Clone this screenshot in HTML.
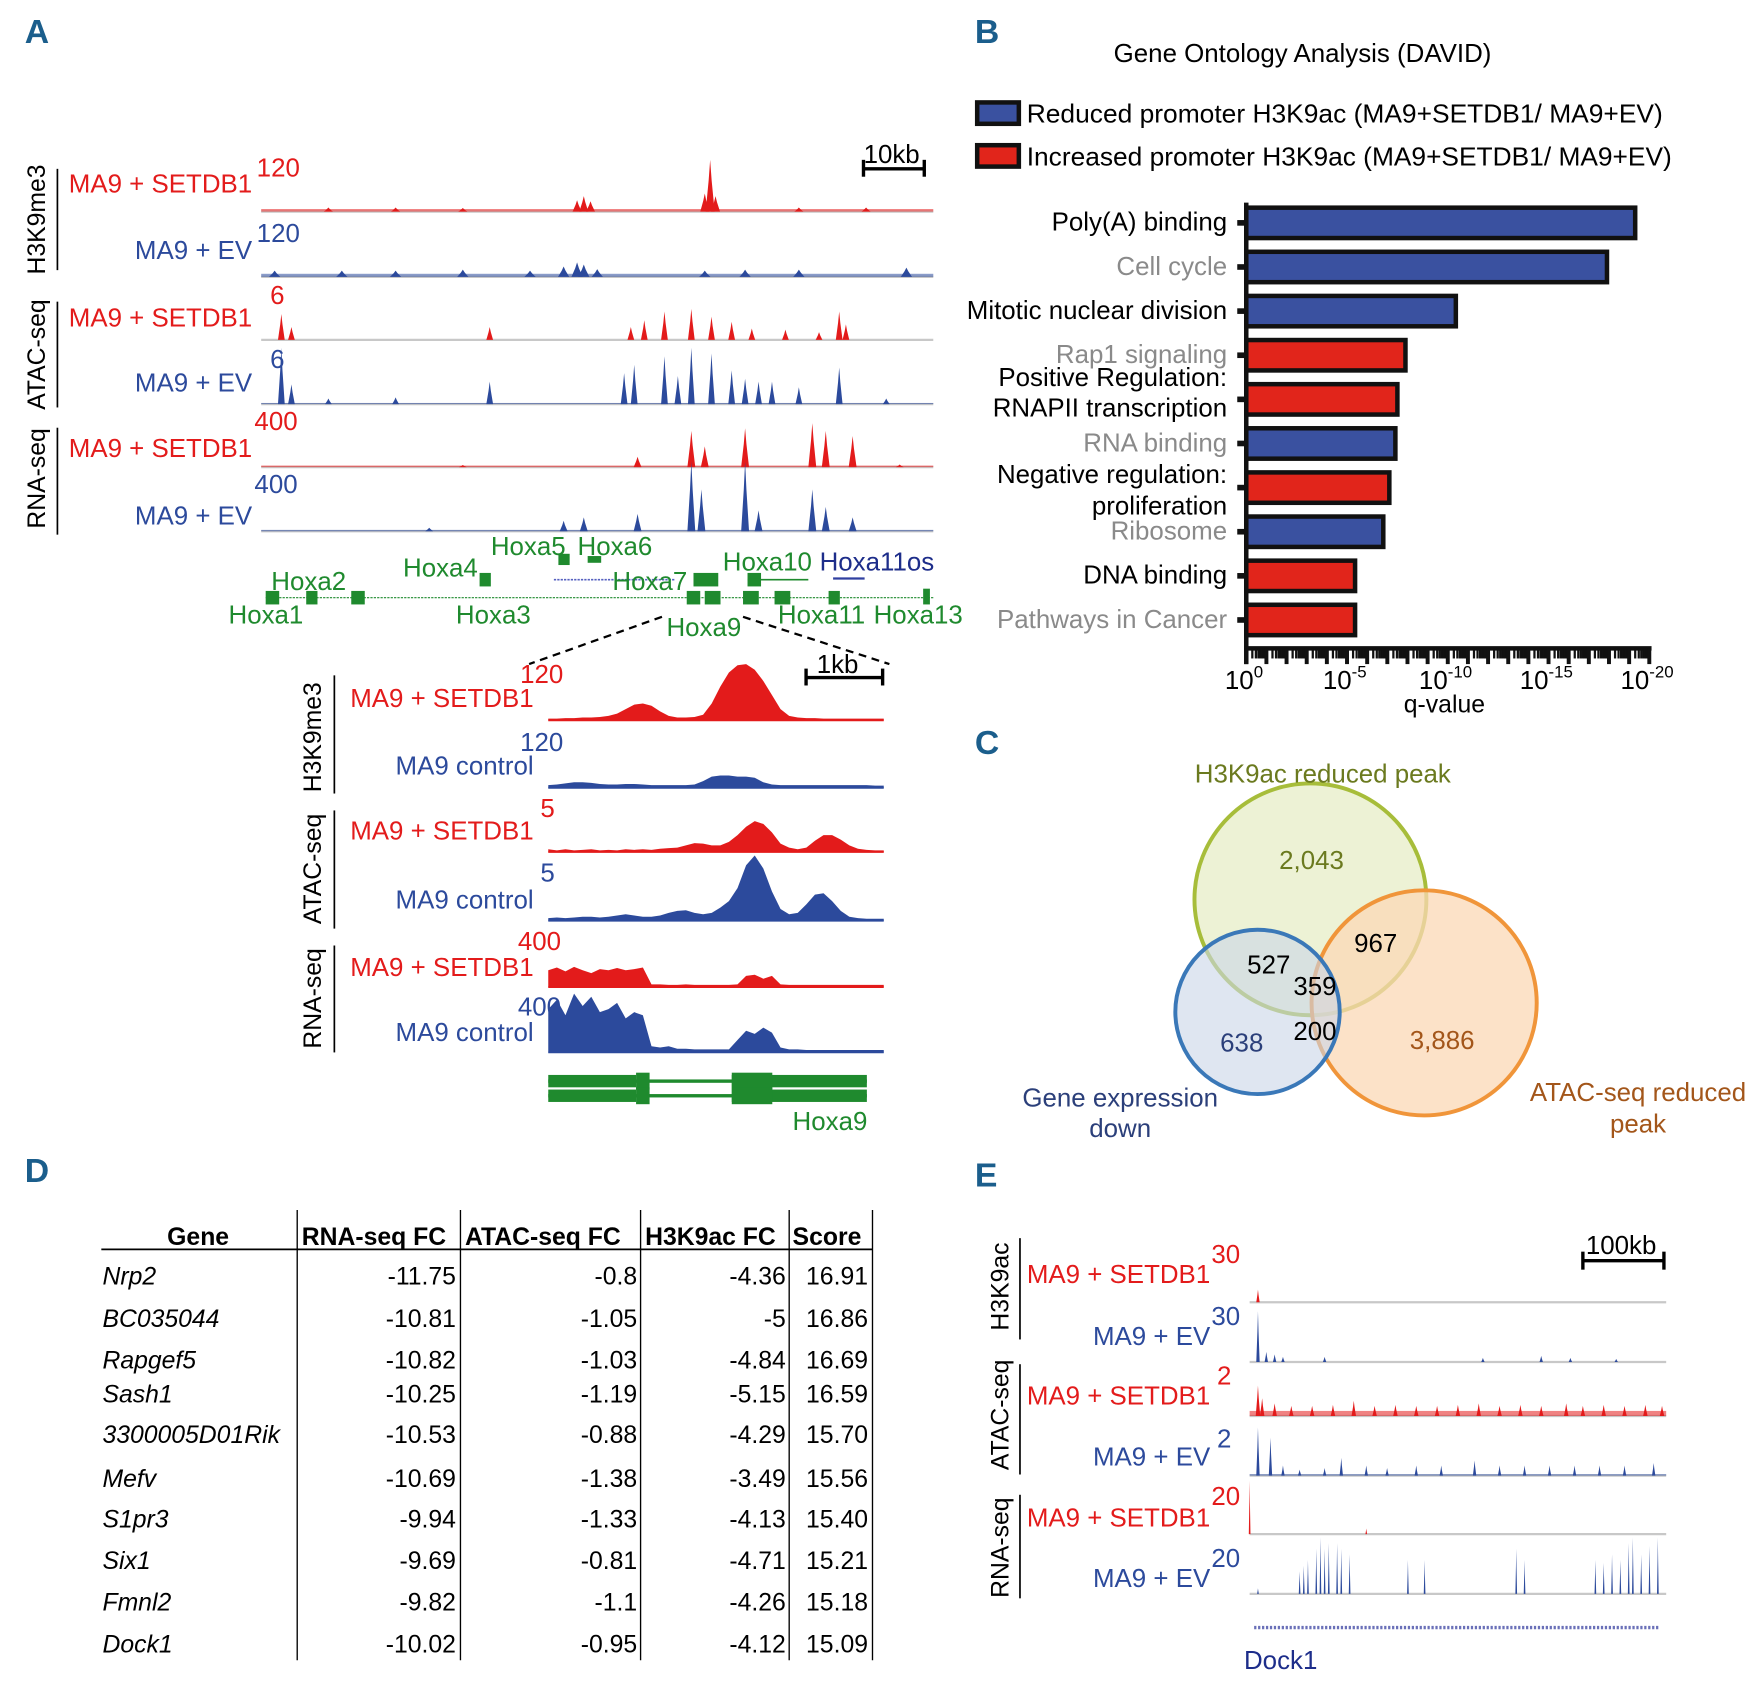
<!DOCTYPE html>
<html><head><meta charset="utf-8"><style>
html,body{margin:0;padding:0;background:#fff}
svg{display:block}
text{font-family:"Liberation Sans Narrow","Liberation Sans",sans-serif}
.b text{font-family:"Liberation Sans",sans-serif}
.L{font-family:"Liberation Sans Narrow","Liberation Sans",sans-serif;font-weight:bold;fill:#1b5e8c;font-size:30px}
</style></head><body>
<svg id="fig" width="1763" height="1685" viewBox="0 0 1566 1497" preserveAspectRatio="none" xmlns="http://www.w3.org/2000/svg">
<text class="L" x="22" y="38">A</text>
<text class="L" x="866" y="38">B</text>
<text class="L" x="866" y="670">C</text>
<text class="L" x="22" y="1050">D</text>
<text class="L" x="866" y="1054">E</text>

<g id="panelA" font-size="23">
<g fill="#000" font-size="22" font-family="Liberation Sans">
<text transform="translate(40,195) rotate(-90)" text-anchor="middle" style="font-family:'Liberation Sans'">H3K9me3</text>
<text transform="translate(40,315) rotate(-90)" text-anchor="middle" style="font-family:'Liberation Sans'">ATAC-seq</text>
<text transform="translate(40,425) rotate(-90)" text-anchor="middle" style="font-family:'Liberation Sans'">RNA-seq</text>
</g>
<line x1="51" y1="150" x2="51" y2="240" stroke="#000" stroke-width="1.5"/>
<line x1="51" y1="268" x2="51" y2="362" stroke="#000" stroke-width="1.5"/>
<line x1="51" y1="380" x2="51" y2="475" stroke="#000" stroke-width="1.5"/>
<g text-anchor="end">
<text x="224" y="171" fill="#e31b1b">MA9 + SETDB1</text>
<text x="224" y="230" fill="#2c4a9c">MA9 + EV</text>
<text x="224" y="290" fill="#e31b1b">MA9 + SETDB1</text>
<text x="224" y="348" fill="#2c4a9c">MA9 + EV</text>
<text x="224" y="406" fill="#e31b1b">MA9 + SETDB1</text>
<text x="224" y="466" fill="#2c4a9c">MA9 + EV</text>
</g>
<text x="228" y="157" fill="#e31b1b">120</text>
<text x="228" y="215" fill="#2c4a9c">120</text>
<text x="240" y="270" fill="#e31b1b">6</text>
<text x="240" y="327" fill="#2c4a9c">6</text>
<text x="226" y="382" fill="#e31b1b">400</text>
<text x="226" y="438" fill="#2c4a9c">400</text>
<line x1="767" y1="150" x2="821" y2="150" stroke="#000" stroke-width="3"/>
<line x1="767" y1="142" x2="767" y2="157" stroke="#000" stroke-width="3"/>
<line x1="821" y1="142" x2="821" y2="157" stroke="#000" stroke-width="3"/>
<text x="792" y="145" text-anchor="middle" fill="#000">10kb</text>
<g fill="#1f8a2e">
<line x1="236" y1="531" x2="830" y2="531" stroke="#1f8a2e" stroke-width="1" stroke-dasharray="2,1"/>
<rect x="236" y="525" width="12" height="12"/><rect x="272" y="525" width="10" height="12"/>
<rect x="312" y="525" width="12" height="12"/><rect x="610" y="525" width="12" height="12"/>
<rect x="626" y="525" width="14" height="12"/><rect x="660" y="525" width="14" height="12"/>
<rect x="688" y="525" width="14" height="12"/><rect x="736" y="525" width="10" height="12"/>
<rect x="820" y="523" width="6" height="14"/>
<rect x="426" y="509" width="10" height="12"/><rect x="616" y="509" width="22" height="12"/>
<rect x="664" y="509" width="12" height="12"/>
<line x1="664" y1="515" x2="718" y2="515" stroke="#1f8a2e" stroke-width="1.5"/>
<rect x="496" y="492" width="10" height="10"/><rect x="522" y="494" width="12" height="6"/>
<line x1="492" y1="515" x2="600" y2="515" stroke="#5560c0" stroke-width="1.5" stroke-dasharray="2,1"/>
<line x1="740" y1="514" x2="768" y2="514" stroke="#3040a0" stroke-width="2"/>
<text x="436" y="493">Hoxa5</text><text x="513" y="493">Hoxa6</text>
<text x="358" y="512">Hoxa4</text><text x="642" y="507">Hoxa10</text>
<text x="728" y="507" fill="#1d2d8a">Hoxa11os</text>
<text x="241" y="524">Hoxa2</text><text x="544" y="524">Hoxa7</text>
<text x="203" y="554">Hoxa1</text><text x="405" y="554">Hoxa3</text>
<text x="592" y="565">Hoxa9</text><text x="691" y="554">Hoxa11</text><text x="776" y="554">Hoxa13</text>
</g>
<line x1="588" y1="548" x2="470" y2="590" stroke="#000" stroke-width="2" stroke-dasharray="7,5"/>
<line x1="660" y1="548" x2="790" y2="590" stroke="#000" stroke-width="2" stroke-dasharray="7,5"/>
<text transform="translate(285,655) rotate(-90)" text-anchor="middle" style="font-family:'Liberation Sans'" font-size="22" fill="#000">H3K9me3</text>
<text transform="translate(285,772) rotate(-90)" text-anchor="middle" style="font-family:'Liberation Sans'" font-size="22" fill="#000">ATAC-seq</text>
<text transform="translate(285,887) rotate(-90)" text-anchor="middle" style="font-family:'Liberation Sans'" font-size="22" fill="#000">RNA-seq</text>
<line x1="297" y1="600" x2="297" y2="705" stroke="#000" stroke-width="1.5"/>
<line x1="297" y1="720" x2="297" y2="825" stroke="#000" stroke-width="1.5"/>
<line x1="297" y1="840" x2="297" y2="935" stroke="#000" stroke-width="1.5"/>
<g text-anchor="end">
<text x="474" y="628" fill="#e31b1b">MA9 + SETDB1</text>
<text x="474" y="688" fill="#2c4a9c">MA9 control</text>
<text x="474" y="746" fill="#e31b1b">MA9 + SETDB1</text>
<text x="474" y="807" fill="#2c4a9c">MA9 control</text>
<text x="474" y="867" fill="#e31b1b">MA9 + SETDB1</text>
<text x="474" y="925" fill="#2c4a9c">MA9 control</text>
</g>
<text x="462" y="607" fill="#e31b1b">120</text>
<text x="462" y="667" fill="#2c4a9c">120</text>
<text x="480" y="726" fill="#e31b1b">5</text>
<text x="480" y="783" fill="#2c4a9c">5</text>
<text x="460" y="844" fill="#e31b1b">400</text>
<text x="460" y="902" fill="#2c4a9c">400</text>
<line x1="716" y1="602" x2="784" y2="602" stroke="#000" stroke-width="3"/>
<line x1="716" y1="594" x2="716" y2="609" stroke="#000" stroke-width="3"/>
<line x1="784" y1="594" x2="784" y2="609" stroke="#000" stroke-width="3"/>
<text x="744" y="598" text-anchor="middle" fill="#000">1kb</text>
<g fill="#1f8a2e">
<rect x="487" y="959" width="283" height="3"/><rect x="487" y="972" width="283" height="3"/>
<rect x="487" y="955" width="78" height="11"/><rect x="650" y="955" width="120" height="11"/>
<rect x="487" y="968" width="78" height="11"/><rect x="650" y="968" width="120" height="11"/>
<rect x="565" y="953" width="12" height="15"/><rect x="650" y="953" width="36" height="15"/>
<rect x="565" y="966" width="12" height="15"/><rect x="650" y="966" width="36" height="15"/>
<text x="704" y="1004">Hoxa9</text>
</g>
</g>

<g class="b">
<text x="1157" y="55" text-anchor="middle" font-size="23" fill="#000">Gene Ontology Analysis (DAVID)</text>
<rect x="868" y="91" width="37" height="19" fill="#3a51a0" stroke="#111" stroke-width="4"/>
<text x="912" y="109" font-size="23" fill="#000" textLength="565" lengthAdjust="spacingAndGlyphs">Reduced promoter H3K9ac (MA9+SETDB1/ MA9+EV)</text>
<rect x="868" y="129" width="37" height="19" fill="#e1251b" stroke="#111" stroke-width="4"/>
<text x="912" y="147" font-size="23" fill="#000" textLength="573" lengthAdjust="spacingAndGlyphs">Increased promoter H3K9ac (MA9+SETDB1/ MA9+EV)</text>
<g id="bars"></g>
<g id="baxis"></g>
<text x="1283" y="633" text-anchor="middle" font-size="22" fill="#000">q-value</text>
</g>

<g class="b" font-size="23">
<circle cx="1164" cy="799" r="103" fill="#e9efcb" fill-opacity="0.8" stroke="#a7bd3a" stroke-width="3.5"/>
<circle cx="1265" cy="891" r="100" fill="#fbd8b5" fill-opacity="0.75" stroke="#f0953a" stroke-width="3.5"/>
<circle cx="1117" cy="899" r="73" fill="#c9d6e8" fill-opacity="0.6" stroke="#3a78b8" stroke-width="3.5"/>
<text x="1175" y="695" text-anchor="middle" fill="#6b7a1f">H3K9ac reduced peak</text>
<text x="1165" y="772" text-anchor="middle" fill="#6b7a1f">2,043</text>
<text x="1222" y="846" text-anchor="middle" fill="#000">967</text>
<text x="1127" y="865" text-anchor="middle" fill="#000">527</text>
<text x="1168" y="884" text-anchor="middle" fill="#000">359</text>
<text x="1168" y="924" text-anchor="middle" fill="#000">200</text>
<text x="1103" y="934" text-anchor="middle" fill="#2b3f7a">638</text>
<text x="1281" y="932" text-anchor="middle" fill="#a3561a">3,886</text>
<text x="995" y="983" text-anchor="middle" fill="#2b3f7a">Gene expression</text>
<text x="995" y="1010" text-anchor="middle" fill="#2b3f7a">down</text>
<text x="1455" y="978" text-anchor="middle" fill="#a3561a">ATAC-seq reduced</text>
<text x="1455" y="1006" text-anchor="middle" fill="#a3561a">peak</text>
</g>

<g id="table" font-size="22" fill="#000"></g>

<g id="panelE" font-size="23">
<text transform="translate(896,1143) rotate(-90)" text-anchor="middle" style="font-family:'Liberation Sans'" font-size="22" fill="#000">H3K9ac</text>
<text transform="translate(896,1257) rotate(-90)" text-anchor="middle" style="font-family:'Liberation Sans'" font-size="22" fill="#000">ATAC-seq</text>
<text transform="translate(896,1375) rotate(-90)" text-anchor="middle" style="font-family:'Liberation Sans'" font-size="22" fill="#000">RNA-seq</text>
<line x1="906" y1="1100" x2="906" y2="1190" stroke="#000" stroke-width="1.5"/>
<line x1="906" y1="1212" x2="906" y2="1310" stroke="#000" stroke-width="1.5"/>
<line x1="906" y1="1328" x2="906" y2="1420" stroke="#000" stroke-width="1.5"/>
<g text-anchor="end">
<text x="1075" y="1140" fill="#e31b1b">MA9 + SETDB1</text>
<text x="1075" y="1195" fill="#2c4a9c">MA9 + EV</text>
<text x="1075" y="1248" fill="#e31b1b">MA9 + SETDB1</text>
<text x="1075" y="1302" fill="#2c4a9c">MA9 + EV</text>
<text x="1075" y="1356" fill="#e31b1b">MA9 + SETDB1</text>
<text x="1075" y="1410" fill="#2c4a9c">MA9 + EV</text>
</g>
<text x="1076" y="1122" fill="#e31b1b">30</text>
<text x="1076" y="1177" fill="#2c4a9c">30</text>
<text x="1081" y="1230" fill="#e31b1b">2</text>
<text x="1081" y="1286" fill="#2c4a9c">2</text>
<text x="1076" y="1337" fill="#e31b1b">20</text>
<text x="1076" y="1392" fill="#2c4a9c">20</text>
<line x1="1406" y1="1120" x2="1478" y2="1120" stroke="#000" stroke-width="3"/>
<line x1="1406" y1="1112" x2="1406" y2="1128" stroke="#000" stroke-width="3"/>
<line x1="1478" y1="1112" x2="1478" y2="1128" stroke="#000" stroke-width="3"/>
<text x="1440" y="1114" text-anchor="middle" fill="#000">100kb</text>
<line x1="1114" y1="1446" x2="1474" y2="1446" stroke="#6a70b8" stroke-width="3" stroke-dasharray="2,1.5"/>
<text x="1105" y="1483" fill="#1d2d8a">Dock1</text>
</g>
<g id="tracks"></g>
</svg>
<script>
const NS="http://www.w3.org/2000/svg";
const goTerms=["Poly(A) binding","Cell cycle","Mitotic nuclear division","Rap1 signaling","RNAPII transcription","RNA binding","proliferation","Ribosome","DNA binding","Pathways in Cancer"];
const goNegLog10Q=[19.3,17.9,10.4,7.9,7.5,7.4,7.1,6.8,5.4,5.4];
const goDirection=["down","down","down","up","up","down","up","down","up","up"];
const goLabelGray=[false,true,false,true,false,true,false,true,false,true];
const qTickExps=[0,5,10,15,20];
const tblHeader=["Gene","RNA-seq FC","ATAC-seq FC","H3K9ac FC","Score"];
const tblGenes=["Nrp2","BC035044","Rapgef5","Sash1","3300005D01Rik","Mefv","S1pr3","Six1","Fmnl2","Dock1"];
const tblRna=["-11.75","-10.81","-10.82","-10.25","-10.53","-10.69","-9.94","-9.69","-9.82","-10.02"];
const tblAtac=["-0.8","-1.05","-1.03","-1.19","-0.88","-1.38","-1.33","-0.81","-1.1","-0.95"];
const tblH3=["-4.36","-5","-4.84","-5.15","-4.29","-3.49","-4.13","-4.71","-4.26","-4.12"];
const tblScore=["16.91","16.86","16.69","16.59","15.70","15.56","15.40","15.21","15.18","15.09"];
const aK9Setdb1=[[0.47,0.22],[0.48,0.3],[0.49,0.2],[0.66,0.35],[0.668,1.0],[0.676,0.3],[0.1,0.08],[0.2,0.08],[0.3,0.07],[0.8,0.08],[0.9,0.08]];
const aK9Ev=[[0.12,0.12],[0.2,0.12],[0.3,0.14],[0.4,0.12],[0.45,0.2],[0.47,0.28],[0.48,0.24],[0.5,0.15],[0.66,0.12],[0.72,0.14],[0.8,0.14],[0.96,0.18],[0.02,0.12]];
const aAtacSetdb1=[[0.03,0.5],[0.045,0.25],[0.34,0.25],[0.55,0.25],[0.57,0.38],[0.6,0.55],[0.64,0.6],[0.67,0.45],[0.7,0.35],[0.73,0.22],[0.78,0.2],[0.83,0.15],[0.86,0.55],[0.87,0.3]];
const aAtacEv=[[0.03,1.0],[0.045,0.35],[0.1,0.1],[0.2,0.12],[0.34,0.4],[0.54,0.55],[0.555,0.7],[0.6,0.85],[0.62,0.5],[0.64,1.0],[0.67,0.9],[0.7,0.6],[0.72,0.45],[0.74,0.4],[0.76,0.4],[0.8,0.3],[0.86,0.65],[0.93,0.1]];
const aRnaSetdb1=[[0.56,0.2],[0.64,0.7],[0.66,0.4],[0.72,0.75],[0.82,0.85],[0.84,0.7],[0.88,0.6],[0.3,0.04],[0.95,0.05]];
const aRnaEv=[[0.45,0.15],[0.48,0.2],[0.56,0.25],[0.64,1.0],[0.655,0.6],[0.72,1.0],[0.74,0.3],[0.82,0.6],[0.84,0.35],[0.88,0.2],[0.25,0.05]];
const iK9Setdb1=[0.03,0.03,0.04,0.04,0.05,0.05,0.06,0.08,0.12,0.2,0.28,0.3,0.26,0.16,0.08,0.05,0.05,0.06,0.1,0.3,0.6,0.85,0.98,1.0,0.9,0.7,0.45,0.2,0.08,0.05,0.04,0.04,0.03,0.03,0.03,0.03,0.03,0.03,0.03,0.03];
const iK9Control=[0.05,0.06,0.08,0.1,0.1,0.09,0.07,0.06,0.06,0.07,0.07,0.06,0.05,0.05,0.05,0.05,0.05,0.06,0.12,0.2,0.22,0.22,0.2,0.2,0.18,0.1,0.06,0.05,0.05,0.05,0.05,0.05,0.05,0.05,0.05,0.05,0.05,0.05,0.04,0.04];
const iAtacSetdb1=[0.05,0.03,0.05,0.03,0.04,0.05,0.03,0.04,0.03,0.05,0.04,0.05,0.04,0.06,0.07,0.08,0.12,0.16,0.15,0.12,0.12,0.18,0.3,0.45,0.55,0.5,0.35,0.15,0.08,0.05,0.08,0.2,0.3,0.3,0.22,0.12,0.06,0.04,0.03,0.03];
const iAtacControl=[0.04,0.05,0.04,0.05,0.06,0.06,0.05,0.06,0.08,0.1,0.08,0.06,0.06,0.08,0.12,0.15,0.16,0.12,0.1,0.12,0.2,0.3,0.5,0.85,1.0,0.8,0.45,0.18,0.1,0.12,0.25,0.4,0.42,0.3,0.15,0.06,0.04,0.03,0.03,0.03];
const iRnaSetdb1=[0.3,0.35,0.28,0.36,0.3,0.25,0.32,0.3,0.34,0.3,0.32,0.35,0.05,0.05,0.04,0.04,0.05,0.04,0.04,0.04,0.04,0.04,0.05,0.2,0.22,0.15,0.2,0.05,0.04,0.04,0.04,0.04,0.04,0.04,0.04,0.04,0.04,0.04,0.04,0.04];
const iRnaControl=[0.7,0.85,0.6,0.95,0.75,0.9,0.65,0.7,0.8,0.55,0.65,0.6,0.1,0.08,0.1,0.06,0.06,0.05,0.05,0.05,0.05,0.05,0.2,0.35,0.3,0.4,0.32,0.08,0.05,0.05,0.04,0.04,0.04,0.04,0.04,0.04,0.04,0.04,0.04,0.04];
const eK9Setdb1=[[0.02,0.25]];
const eK9Ev=[[0.02,1.0],[0.04,0.2],[0.06,0.15],[0.08,0.1],[0.18,0.1],[0.56,0.08],[0.7,0.12],[0.77,0.08],[0.88,0.06]];
const eAtacSetdb1=[[0.02,0.6],[0.03,0.35],[0.06,0.25],[0.1,0.2],[0.15,0.2],[0.2,0.22],[0.25,0.3],[0.3,0.2],[0.35,0.22],[0.4,0.2],[0.45,0.2],[0.5,0.22],[0.55,0.25],[0.6,0.2],[0.65,0.22],[0.7,0.2],[0.76,0.25],[0.8,0.2],[0.85,0.22],[0.9,0.2],[0.95,0.22],[0.99,0.2]];
const eAtacEv=[[0.02,0.95],[0.05,0.75],[0.08,0.2],[0.12,0.12],[0.18,0.15],[0.22,0.35],[0.28,0.2],[0.33,0.15],[0.4,0.2],[0.46,0.2],[0.54,0.3],[0.6,0.2],[0.66,0.2],[0.72,0.2],[0.78,0.2],[0.84,0.2],[0.9,0.2],[0.97,0.25]];
const eRnaSetdb1=[[0.0,0.95],[0.28,0.1]];
const eRnaEv=[[0.02,0.1],[0.12,0.4],[0.13,0.5],[0.14,0.6],[0.16,0.8],[0.17,1.0],[0.18,0.8],[0.19,0.9],[0.21,0.9],[0.22,0.8],[0.24,0.7],[0.38,0.6],[0.42,0.6],[0.64,0.8],[0.66,0.6],[0.83,0.6],[0.85,0.55],[0.87,0.7],[0.89,0.6],[0.91,0.9],[0.92,1.0],[0.94,0.7],[0.96,0.85],[0.98,1.0]];

function el(tag,attrs,parent){const e=document.createElementNS(NS,tag);for(const k in attrs)e.setAttribute(k,attrs[k]);parent.appendChild(e);return e;}

const bars=document.getElementById('bars'), bax=document.getElementById('baxis');
const bx0=1107,bx1=1465,by0=198,bstep=39.2,bh=27;
const xq=v=>bx0+(v/20)*(bx1-bx0);
const FS=23;
goTerms.forEach((t,i)=>{
  const cy=by0+i*bstep;
  const r=el('rect',{x:bx0,y:cy-bh/2,width:xq(goNegLog10Q[i])-bx0,height:bh,fill:goDirection[i]==="down"?"#3a51a0":"#e1251b",stroke:"#111","stroke-width":4},bars);
  
  
  el('rect',{x:bx0-8,y:cy-2.5,width:8,height:5,fill:"#111"},bax);
  const col=goLabelGray[i]?"#8a8a8a":"#000";
  if(t==="RNAPII transcription"){
    const a=el('text',{x:1090,y:343,"text-anchor":"end","font-size":FS,fill:col},bars);a.textContent="Positive Regulation:";
    
    
    const b=el('text',{x:1090,y:370,"text-anchor":"end","font-size":FS,fill:col},bars);b.textContent="RNAPII transcription";
    
    
  } else if(t==="proliferation"){
    const a=el('text',{x:1090,y:429,"text-anchor":"end","font-size":FS,fill:col},bars);a.textContent="Negative regulation:";
    
    
    const b=el('text',{x:1090,y:457,"text-anchor":"end","font-size":FS,fill:col},bars);b.textContent="proliferation";
    
    
  } else {
    const a=el('text',{x:1090,y:cy+7,"text-anchor":"end","font-size":FS,fill:col},bars);a.textContent=t;
    
    
  }
});
el('line',{x1:bx0,y1:180,x2:bx0,y2:590,stroke:"#111","stroke-width":4},bax);
el('line',{x1:bx0-2,y1:576,x2:bx1+2,y2:576,stroke:"#111","stroke-width":4},bax);
for(let d=0;d<20;d++){for(let m=1;m<=9;m++){const v=d+Math.log10(m);const x=xq(v);el('line',{x1:x,y1:576,x2:x,y2:m===1?590:585,stroke:"#111","stroke-width":m===1?3.5:2},bax);}}
el('line',{x1:xq(20),y1:576,x2:xq(20),y2:590,stroke:"#111","stroke-width":3.5},bax);
qTickExps.forEach(e=>{const t=el('text',{x:xq(e)-2,y:612,"text-anchor":"middle","font-size":23,fill:"#000"},bax);
  
  
  t.innerHTML='10<tspan dy="-10" font-size="15">'+(e===0?'0':'-'+e)+'</tspan>';});

const tb=document.getElementById('table');
const colLines=[264,409,569,701,775];
colLines.forEach(x=>el('line',{x1:x,y1:1075,x2:x,y2:1475,stroke:"#000","stroke-width":1.2},tb));
el('line',{x1:90,y1:1110,x2:775,y2:1110,stroke:"#000","stroke-width":1.5},tb);
const hx=[[176,"middle"],[268,"start"],[413,"start"],[573,"start"],[704,"start"]];
tblHeader.forEach((h,i)=>{const t=el('text',{x:hx[i][0],y:1106,"text-anchor":hx[i][1],"font-weight":"bold"},tb);t.textContent=h;
  
  });
const rowY=[1141,1179,1216,1246,1282,1321,1357,1394,1431,1468];
tblGenes.forEach((g,i)=>{
  const y=rowY[i];
  const cells=[[91,"start",g,true],[405,"end",tblRna[i]],[566,"end",tblAtac[i]],[698,"end",tblH3[i]],[771,"end",tblScore[i]]];
  cells.forEach(c=>{const t=el('text',{x:c[0],y:y,"text-anchor":c[1]},tb);if(c[3])t.setAttribute('font-style','italic');t.textContent=c[2];
    
    });
});

const tg=document.getElementById('tracks');
const RED="#e31b1b",BLUE="#2c4a9c";
function peakTrack(name,peaks,x0,x1,base,H,color,w,bg){
  const g=el('g',{},tg);
  
  
  el('line',{x1:x0,y1:base,x2:x1,y2:base,stroke:"#c8c8c8","stroke-width":2},g);
  if(bg) el('rect',{x:x0,y:base-bg*H,width:x1-x0,height:bg*H,fill:color,opacity:0.55},g);
  peaks.forEach(p=>{const x=x0+p[0]*(x1-x0),h=p[1]*H;
    el('polygon',{points:`${x-w/2},${base} ${x-w/6},${base-h*0.6} ${x},${base-h} ${x+w/6},${base-h*0.6} ${x+w/2},${base}`,fill:color},g);});
}
function profTrack(name,prof,x0,x1,base,H,color){
  const g=el('g',{},tg);
  
  
  const n=prof.length;let pts=`${x0},${base} `;
  prof.forEach((v,i)=>{pts+=`${x0+i*(x1-x0)/(n-1)},${base-v*H} `;});
  pts+=`${x1},${base}`;
  el('polygon',{points:pts,fill:color},g);
  el('line',{x1:x0,y1:base,x2:x1,y2:base,stroke:color,"stroke-width":1.5},g);
}
peakTrack('a-h3k9me3-setdb1',aK9Setdb1,232,829,188,46,RED,8,0.05);
peakTrack('a-h3k9me3-ev',aK9Ev,232,829,246,46,BLUE,10,0.06);
peakTrack('a-atac-setdb1',aAtacSetdb1,232,829,302,46,RED,6,0);
peakTrack('a-atac-ev',aAtacEv,232,829,359,50,BLUE,6,0.02);
peakTrack('a-rna-setdb1',aRnaSetdb1,232,829,415,46,RED,7,0.03);
peakTrack('a-rna-ev',aRnaEv,232,829,472,62,BLUE,7,0.02);
profTrack('inset-h3k9me3-setdb1',iK9Setdb1,487,785,640,50,RED);
profTrack('inset-h3k9me3-control',iK9Control,487,785,700,50,BLUE);
profTrack('inset-atac-setdb1',iAtacSetdb1,487,785,757,50,RED);
profTrack('inset-atac-control',iAtacControl,487,785,818,58,BLUE);
profTrack('inset-rna-setdb1',iRnaSetdb1,487,785,877,50,RED);
profTrack('inset-rna-control',iRnaControl,487,785,935,55,BLUE);
peakTrack('e-h3k9ac-setdb1',eK9Setdb1,1110,1480,1157,45,RED,3,0);
peakTrack('e-h3k9ac-ev',eK9Ev,1110,1480,1210,45,BLUE,3,0);
peakTrack('e-atac-setdb1',eAtacSetdb1,1110,1480,1258,45,RED,4,0.1);
peakTrack('e-atac-ev',eAtacEv,1110,1480,1311,45,BLUE,3,0.03);
peakTrack('e-rna-setdb1',eRnaSetdb1,1110,1480,1363,50,RED,1.5,0);
peakTrack('e-rna-ev',eRnaEv,1110,1480,1416,50,BLUE,1.5,0);
</script>
</body></html>
